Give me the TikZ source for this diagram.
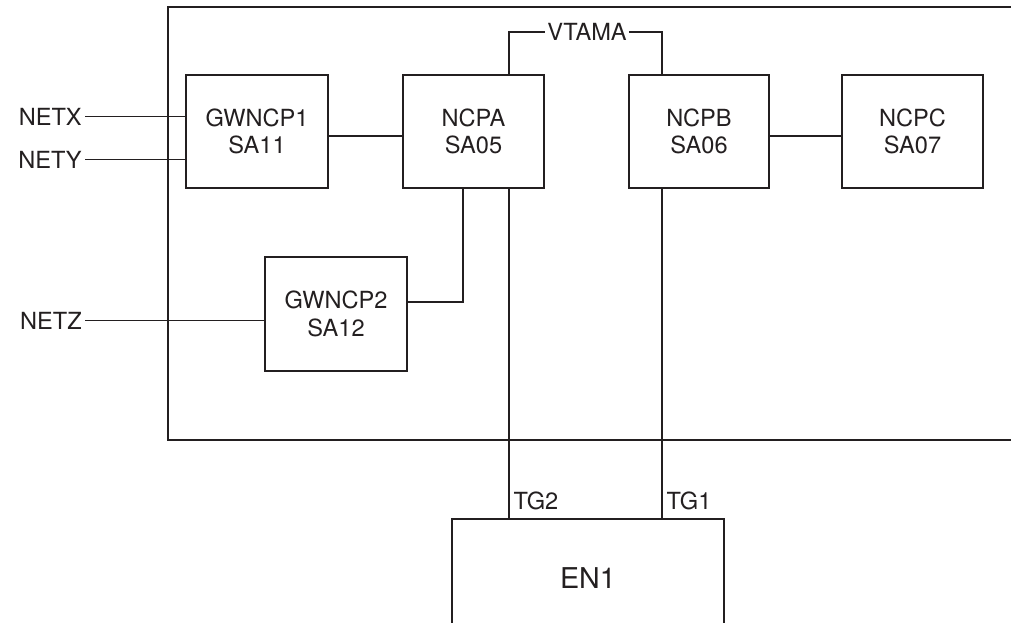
\documentclass[tikz,border=0pt]{standalone}
\usepackage{fontspec}
\setmainfont{TeX Gyre Heros}
\definecolor{ink}{RGB}{35,31,32}
\newcommand\labfont{\fontsize{17.7pt}{20.5pt}\selectfont}
\newcommand\bigfont{\fontsize{21.5pt}{24pt}\selectfont}
\tikzset{
  box/.style={draw=ink, line width=1.5pt, inner sep=0pt, align=center, font=\labfont, text=ink,
              minimum width=#1, minimum height=84.75pt},
  lbl/.style={inner xsep=2.25pt, inner ysep=0pt, font=\labfont, text=ink},
  wire/.style={draw=ink, line width=0.8pt},
  frame/.style={draw=ink, line width=1.8pt, inner sep=0pt},
}
\begin{document}
\begin{tikzpicture}[x=0.75pt,y=-0.75pt]
\useasboundingbox (0,0) rectangle (1011,623);
\clip (0,0) rectangle (1011,623);
% outer frame
\node[frame, minimum width=646.5pt, minimum height=324.75pt] (net) at (599,223.5) {};
% boxes
\node[box=106.5pt] (g1) at (257,131.5) {GWNCP1\\SA11};
\node[box=105.75pt] (ncpa) at (473.5,131.5) {NCPA\\SA05};
\node[box=105pt] (ncpb) at (699,131.5) {NCPB\\SA06};
\node[box=105.75pt] (ncpc) at (912.5,131.5) {NCPC\\SA07};
\node[box=106.5pt, minimum height=85.5pt] (g2) at (336,314) {GWNCP2\\SA12};
\node[box=204pt, minimum height=88.5pt, font=\bigfont] (en1) at (588,578) {EN1};
% outside labels
\node[lbl, anchor=east] (netx) at (85,116.5) {NETX};
\node[lbl, anchor=east] (nety) at (85,159.5) {NETY};
\node[lbl, anchor=east] (netz) at (85,320.5) {NETZ};
\node[lbl, inner xsep=1.5pt] (vtama) at (587,32) {VTAMA};
% connectors
\draw[wire] (netx) -- (netx -| g1.west);
\draw[wire] (nety) -- (nety -| g1.west);
\draw[wire] (netz) -- (netz -| g2.west);
\draw[wire] ([yshift=-3.4pt]g1.east) -- ([yshift=-3.4pt]g1.east -| ncpa.west);
\draw[wire] ([yshift=-3.4pt]ncpb.east) -- ([yshift=-3.4pt]ncpb.east -| ncpc.west);
\draw[wire] ([xshift=-7.9pt]ncpa.south) |- ([yshift=9pt]g2.east);
\draw[wire] ([xshift=26.6pt]ncpa.north) |- (vtama.west);
\draw[wire] (vtama.east) -| ([xshift=-27.75pt]ncpb.north);
\draw[wire] ([xshift=26.6pt]ncpa.south) -- ([xshift=26.6pt]ncpa.south |- en1.north)
  node[lbl, anchor=south west, inner xsep=3pt, inner ysep=6pt] (tg2) {TG2};
\draw[wire] ([xshift=-27.75pt]ncpb.south) -- ([xshift=-27.75pt]ncpb.south |- en1.north)
  node[lbl, anchor=south west, inner xsep=3pt, inner ysep=6pt] (tg1) {TG1};
\end{tikzpicture}
\end{document}
